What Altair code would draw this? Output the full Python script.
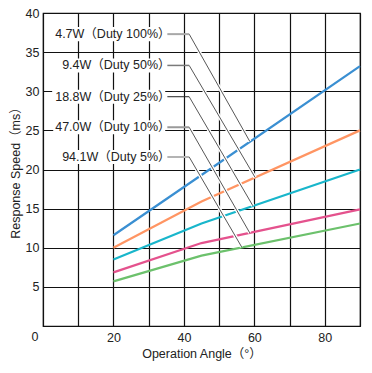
import altair as alt
import pandas as pd

# ---- data ----
angles = [20, 45, 90]
series_names = ["4.7W（Duty 100%）", "9.4W（Duty 50%）", "18.8W（Duty 25%）",
                "47.0W（Duty 10%）", "94.1W（Duty 5%）"]
speed_100 = [11.6, 19.3, 33.2]
speed_50 = [10.0, 15.9, 25.0]
speed_25 = [8.5, 13.1, 20.0]
speed_10 = [6.85, 10.6, 14.9]
speed_5 = [5.7, 9.0, 13.1]
colors = ["#3a8fd2", "#ff9563", "#19b6cb", "#e4528d", "#6cc16c"]

# annotation: label height (ms) and point on the curve the leader points to
label_y = [37.3, 33.3, 29.3, 25.4, 21.6]
target_x = [58.7, 60.2, 59.6, 58.7, 56.4]
target_y = [23.6, 19.0, 15.35, 11.9, 10.1]
label_left = [3.0, 5.0, 2.6, 2.9, 5.0]
seg_colors = ["#a8a8a8", "#7a7a7a", "#222222", "#9a9a9a", "#b4b4b4"]
seg_widths = [2.0, 1.5, 1.0, 2.0, 2.0]

FONT = "Liberation Sans, Arial, Noto Sans CJK JP"

all_speeds = [speed_100, speed_50, speed_25, speed_10, speed_5]
rows = []
for name, sp in zip(series_names, all_speeds):
    for a, v in zip(angles, sp):
        rows.append({"series": name, "angle": a, "speed": v})
df = pd.DataFrame(rows)

ann = pd.DataFrame({
    "series": series_names,
    "ly": label_y,
    "tx": target_x,
    "ty": target_y,
    "left": label_left,
    "segc": seg_colors,
    "segw": seg_widths,
})
ann["text_x"] = 36.2
ann["seg0"] = 35.3
ann["seg1"] = 41.5
ann["box_r"] = 34.7
ann["box_b"] = ann["ly"] - 0.9
ann["box_t"] = ann["ly"] + 0.9

xs = alt.Scale(domain=[0, 90], nice=False)
ys = alt.Scale(domain=[0, 40], nice=False)

x_axis = alt.Axis(values=list(range(0, 91, 10)),
                  labelExpr="datum.value % 20 == 0 && datum.value > 0 ? datum.label : ''",
                  title="Operation Angle（°）", ticks=False, domain=False,
                  labelPadding=5, titlePadding=4, labelFlush=False, labelOverlap=False)
y_axis = alt.Axis(values=list(range(0, 41, 5)),
                  labelExpr="datum.value > 0 ? datum.label : ''",
                  title="Response Speed（ms）", ticks=False, domain=False,
                  labelPadding=4, titlePadding=3, labelOverlap=False, labelFlush=False)


def X(f):
    return alt.X(f, scale=xs, axis=x_axis)


def Y(f):
    return alt.Y(f, scale=ys, axis=y_axis)


lines = alt.Chart(df).mark_line(strokeWidth=2.2).encode(
    x=X("angle:Q"),
    y=Y("speed:Q"),
    color=alt.Color("series:N", scale=alt.Scale(domain=series_names, range=colors), legend=None),
)

base = alt.Chart(ann)

boxes = base.mark_rect(color="white").encode(
    x=X("left:Q"), x2="box_r:Q", y=Y("box_b:Q"), y2="box_t:Q")

halo = base.mark_rule(color="white", strokeWidth=3.5).encode(
    x=X("seg1:Q"), y=Y("ly:Q"), x2="tx:Q", y2="ty:Q")
diag = base.mark_rule(color="#444444", strokeWidth=0.9).encode(
    x=X("seg1:Q"), y=Y("ly:Q"), x2="tx:Q", y2="ty:Q")
seg = base.mark_rule().encode(
    x=X("seg0:Q"), x2="seg1:Q", y=Y("ly:Q"),
    color=alt.Color("segc:N", scale=None),
    size=alt.Size("segw:Q", scale=None))

labels = base.mark_text(align="right", baseline="middle", fontSize=12.5,
                        font=FONT, color="#222222").encode(
    x=X("text_x:Q"), y=Y("ly:Q"), text="series:N")

zero = alt.Chart(pd.DataFrame({"a": [0], "b": [0], "t": ["0"]})).mark_text(
    align="center", baseline="top", fontSize=12.5, font=FONT, color="#222222",
    dx=-8, dy=5).encode(x=X("a:Q"), y=Y("b:Q"), text="t:N")

chart = alt.layer(lines, boxes, halo, diag, seg, labels, zero).properties(
    width=317, height=313,
    autosize=alt.AutoSizeParams(type="none"),
    padding={"left": 35, "top": 5, "right": 3, "bottom": 36},
).configure_view(stroke="#111111", strokeWidth=1.2).configure_axis(
    grid=True, gridColor="#111111", gridWidth=1.2, gridOpacity=1,
    labelFont=FONT, labelFontSize=12.5, labelColor="#222222",
    titleFont=FONT, titleFontSize=12.5, titleFontWeight="normal", titleColor="#222222",
)

chart.save("out.html", embed_options={"renderer": "svg", "actions": False})
